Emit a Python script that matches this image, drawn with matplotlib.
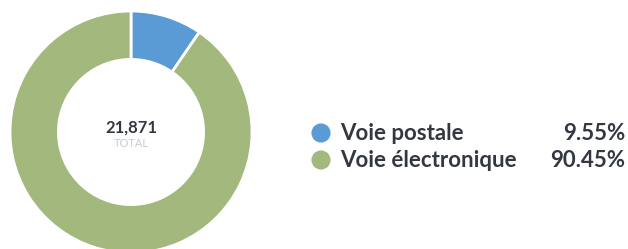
import matplotlib
matplotlib.use("Agg")
import matplotlib.pyplot as plt

labels = ["Voie postale", "Voie électronique"]
values = [9.55, 90.45]
pct_labels = ["9.55%", "90.45%"]
colors = ["#5b9bd5", "#a3b87c"]
total_label = "21,871"

W, H = 628, 249
fig = plt.figure(figsize=(W / 100, H / 100), dpi=100)
ax = fig.add_axes([0, 0, 1, 1])
ax.set_xlim(0, W)
ax.set_ylim(0, H)
ax.set_aspect("equal")
ax.axis("off")

cx, cy, r = 131, H - 132, 121
ax.pie(values, colors=colors, startangle=90, counterclock=False,
       center=(cx, cy), radius=r,
       wedgeprops=dict(width=r * 0.4, edgecolor="white", linewidth=2))
ax.set_xlim(0, W)
ax.set_ylim(0, H)

ax.text(cx, H - 128, total_label, ha="center", va="center", fontsize=12,
        fontweight="bold", color="#333840", family="Lato")
ax.text(cx, H - 143, "TOTAL", ha="center", va="center", fontsize=8,
        color="#c5ccd4", family="Lato")

ys = [H - 133, H - 160]
for lab, pct, col, y in zip(labels, pct_labels, colors, ys):
    ax.scatter([321], [y], s=190, color=col, edgecolors="none")
    ax.text(340, y, lab, ha="left", va="center", fontsize=16,
            fontweight="bold", color="#333840", family="Lato")
    ax.text(625, y, pct, ha="right", va="center", fontsize=16,
            fontweight="bold", color="#333840", family="Lato")

fig.savefig("out.png", dpi=100)
